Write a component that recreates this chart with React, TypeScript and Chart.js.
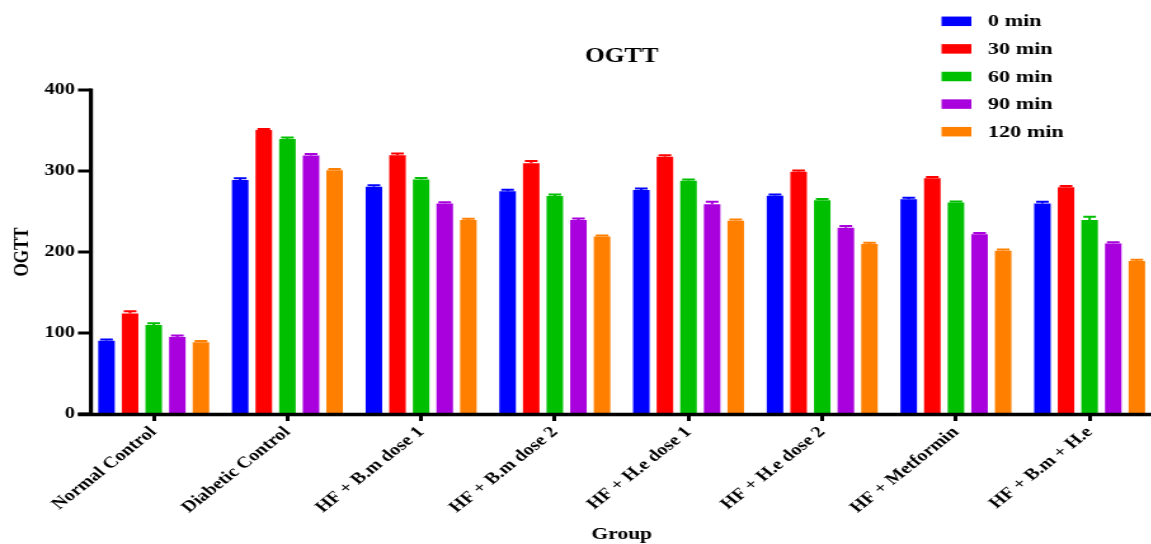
import { useEffect, useRef } from "react";
import { Chart, registerables } from "chart.js";

Chart.register(...registerables);

// Groups on the x axis
const groups = [
  "Normal Control",
  "Diabetic Control",
  "HF + B.m dose 1",
  "HF + B.m dose 2",
  "HF + H.e dose 1",
  "HF + H.e dose 2",
  "HF + Metformin",
  "HF + B.m + H.e",
];

// Sampling times (series)
const seriesNames = ["0 min", "30 min", "60 min", "90 min", "120 min"];
const seriesColors = ["#0000FF", "#FF0000", "#00BF00", "#A900DE", "#FF8000"];

// Mean blood glucose per group at each time point
const min0 = [90.5, 289, 280.5, 275, 276.5, 269.5, 265, 260];
const min30 = [124, 350.5, 319.5, 309.5, 317.5, 299, 291, 280];
const min60 = [110, 339.5, 289.5, 269, 288, 264, 261, 239.5];
const min90 = [95, 319, 260, 239.5, 259, 230, 222, 210.5];
const min120 = [88.5, 301, 239.5, 219, 238.5, 210, 201.5, 189];

// Standard errors (upper whisker)
const err0 = [1.5, 2, 2, 2, 2, 1.5, 2, 2];
const err30 = [3, 1.5, 2, 3, 2, 1.5, 1.5, 1.5];
const err60 = [2, 2, 2, 2, 1.5, 1.5, 1.5, 4];
const err90 = [2, 2, 1.5, 2, 3, 2, 1.5, 1.5];
const err120 = [1.5, 1.5, 1.5, 1.5, 1.5, 1.5, 1.5, 1.5];

const yTicks = [0, 100, 200, 300, 400];

const seriesValues = [min0, min30, min60, min90, min120];
const seriesErrors = [err0, err30, err60, err90, err120];

const FONT = "'Liberation Serif', 'Times New Roman', serif";
const SX = 1.27; // horizontal display stretch of the canvas
const W = 912;
const H = 544;

const decorations = {
  id: "prismDecorations",
  afterDatasetsDraw(chart: any) {
    const ctx = chart.ctx;
    const y = chart.scales.y;
    ctx.save();
    chart.data.datasets.forEach((ds: any, di: number) => {
      const meta = chart.getDatasetMeta(di);
      meta.data.forEach((bar: any, i: number) => {
        const v = ds.data[i];
        const e = ds.errors[i];
        const top = y.getPixelForValue(v + e);
        ctx.strokeStyle = ds.backgroundColor;
        ctx.lineWidth = 2;
        ctx.beginPath();
        ctx.moveTo(bar.x, bar.y);
        ctx.lineTo(bar.x, top);
        ctx.moveTo(bar.x - 5, top);
        ctx.lineTo(bar.x + 5, top);
        ctx.stroke();
      });
    });
    ctx.restore();
  },
  afterDraw(chart: any) {
    const ctx = chart.ctx;
    const area = chart.chartArea;
    const y = chart.scales.y;
    const axisX = 71.6;
    ctx.save();
    ctx.strokeStyle = "#000";
    ctx.fillStyle = "#000";
    // y axis line and tick marks
    ctx.lineWidth = 3.2;
    ctx.beginPath();
    ctx.moveTo(axisX, y.getPixelForValue(400) - 1.5);
    ctx.lineTo(axisX, area.bottom + 2);
    ctx.stroke();
    ctx.lineWidth = 3;
    yTicks.forEach((t) => {
      const py = y.getPixelForValue(t);
      ctx.beginPath();
      ctx.moveTo(61.4, py);
      ctx.lineTo(axisX, py);
      ctx.stroke();
    });
    // x axis line
    ctx.lineWidth = 3.3;
    ctx.beginPath();
    ctx.moveTo(61.4, area.bottom + 0.5);
    ctx.lineTo(chart.width, area.bottom + 0.5);
    ctx.stroke();

    // chart title
    ctx.textBaseline = "middle";
    ctx.textAlign = "center";
    ctx.font = `bold 20px ${FONT}`;
    ctx.fillText("OGTT", (area.left + area.right) / 2, 57);

    // axis titles
    ctx.font = `bold 17px ${FONT}`;
    ctx.fillText("Group", (area.left + area.right) / 2, 535);
    ctx.save();
    ctx.translate(17.3, (area.top + area.bottom) / 2);
    ctx.rotate(-Math.PI / 2);
    ctx.fillText("OGTT", 0, 0);
    ctx.restore();

    // legend
    ctx.textAlign = "left";
    ctx.font = `bold 17.5px ${FONT}`;
    chart.data.datasets.forEach((ds: any, i: number) => {
      const cy = 21.3 + i * 27.6;
      ctx.fillStyle = ds.backgroundColor;
      ctx.fillRect(741.5, cy - 4.75, 23.5, 9.5);
      ctx.fillStyle = "#000";
      ctx.fillText(ds.label, 778, cy + 0.5);
    });
    ctx.restore();
  },
};

export default function App() {
  const canvasRef = useRef<HTMLCanvasElement | null>(null);

  useEffect(() => {
    const canvas = canvasRef.current;
    if (!canvas) return;
    const chart = new Chart(canvas, {
      type: "bar",
      data: {
        labels: groups,
        datasets: seriesNames.map((name, i) => ({
          label: name,
          data: seriesValues[i],
          errors: seriesErrors[i],
          backgroundColor: seriesColors[i],
          borderWidth: 0,
          barPercentage: 0.7,
          categoryPercentage: 0.883,
        })) as any,
      },
      options: {
        responsive: false,
        animation: false,
        devicePixelRatio: 1,
        layout: { padding: { top: 90, left: 0, right: 1.2, bottom: 0 } },
        plugins: {
          legend: { display: false },
          title: { display: false },
          tooltip: { enabled: false },
        },
        scales: {
          x: {
            grid: {
              display: true,
              drawOnChartArea: false,
              drawTicks: true,
              offset: false,
              tickLength: 7,
              tickWidth: 3,
              tickColor: "#000",
            },
            border: { display: false },
            ticks: {
              minRotation: 45,
              maxRotation: 45,
              padding: 2,
              color: "#000",
              font: { family: FONT, size: 16, weight: "bold" },
            },
            afterFit: (scale: any) => {
              scale.height = 130;
            },
          },
          y: {
            min: 0,
            max: 400,
            grid: { display: false, drawTicks: false },
            border: { display: false },
            ticks: {
              stepSize: 100,
              padding: 9.5,
              color: "#000",
              font: { family: FONT, size: 16, weight: "bold" },
            },
            afterFit: (scale: any) => {
              scale.width = 68.4;
            },
          },
        },
      } as any,
      plugins: [decorations],
    });
    return () => chart.destroy();
  }, []);

  return (
    <div
      style={{
        position: "absolute",
        left: 0,
        top: 0,
        width: 1151,
        height: H,
        overflow: "hidden",
        background: "#fff",
      }}
    >
      <canvas
        ref={canvasRef}
        width={W}
        height={H}
        style={{ width: `${W * SX}px`, height: `${H}px`, display: "block" }}
      />
    </div>
  );
}
